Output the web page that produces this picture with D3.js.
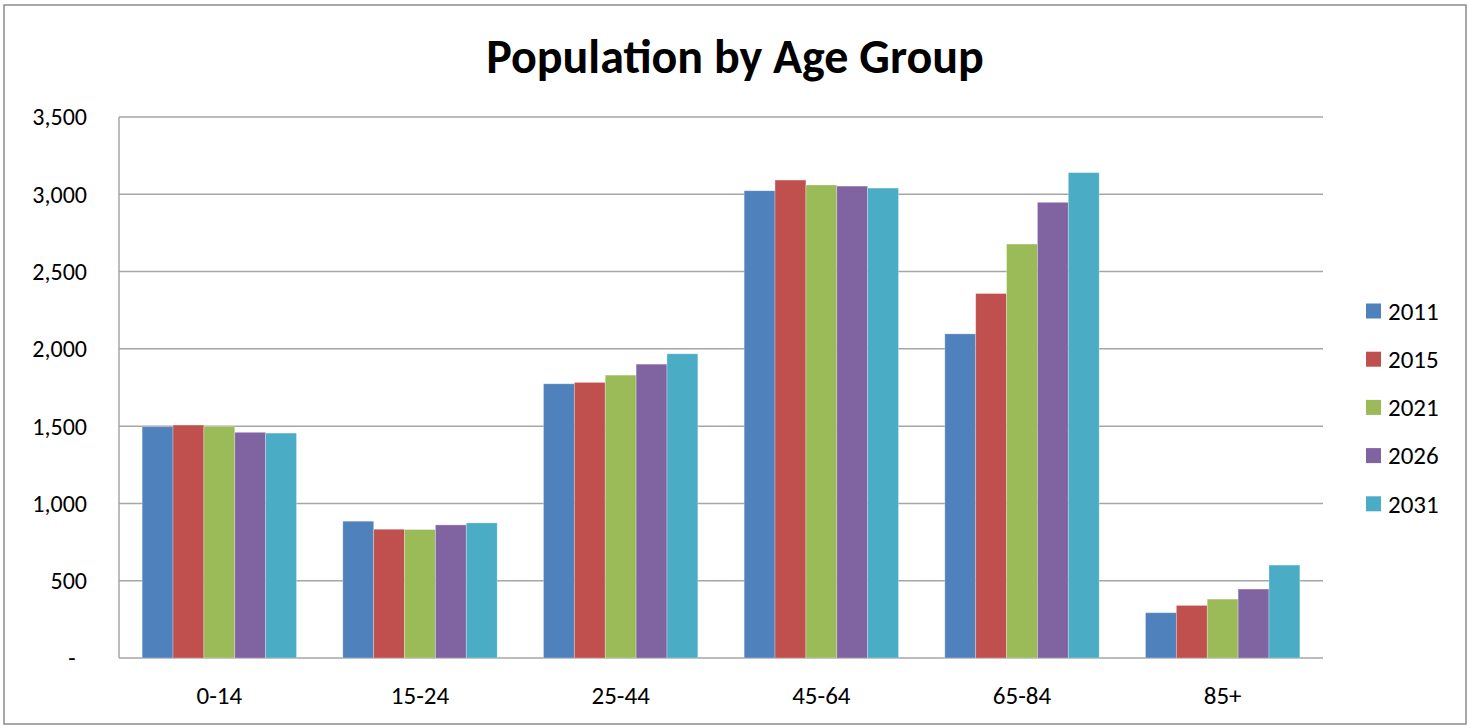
<!DOCTYPE html>
<html>
<head>
<meta charset="utf-8">
<script src="https://cdn.jsdelivr.net/npm/d3@7"></script>
<style>
  html, body { margin: 0; padding: 0; background: #fff; }
  svg { display: block; font-family: Carlito, Lato, "Open Sans", sans-serif; }
</style>
</head>
<body>
<svg id="chart" width="1471" height="728"></svg>
<script>
// ===== Population by Age Group =====

const ageGroups = ['0-14', '15-24', '25-44', '45-64', '65-84', '85+'];
const years = ['2011', '2015', '2021', '2026', '2031'];

// one array per year, values in age group order
const pop2011 = [1496, 885, 1774, 3023, 2097, 293];
const pop2015 = [1507, 833, 1783, 3092, 2358, 340];
const pop2021 = [1498, 831, 1830, 3060, 2678, 381];
const pop2026 = [1460, 861, 1901, 3053, 2948, 446];
const pop2031 = [1455, 874, 1968, 3040, 3140, 601];

const yTicks = [0, 500, 1000, 1500, 2000, 2500, 3000, 3500];
const seriesColors = ['#4F81BD', '#C0504D', '#9BBB59', '#8064A2', '#4BACC6'];

const seriesValues = [pop2011, pop2015, pop2021, pop2026, pop2031];

const svg = d3.select('#chart');
const plot = { left: 119, right: 1323, top: 117, bottom: 658 };

// outer chart frame
svg.append('rect')
    .attr('x', 4).attr('y', 5)
    .attr('width', 1462).attr('height', 719)
    .attr('fill', '#fff')
    .attr('stroke', '#8c8c8c')
    .attr('stroke-width', 1.5);

svg.append('text')
    .attr('x', 735).attr('y', 73)
    .attr('text-anchor', 'middle')
    .attr('font-size', 48)
    .attr('font-weight', 'bold')
    .attr('fill', '#000')
    .text('Population by Age Group');

// Excel-like layout: gap width 150%, half the gap on each side of a group
const groupScale = d3.scaleBand()
    .domain(ageGroups)
    .range([plot.left, plot.right]);
const band = groupScale.bandwidth();
const gap = band * 1.5 / 6.5;

const x1 = d3.scaleBand()
    .domain(years)
    .range([0, band - gap]);

const y = d3.scaleLinear()
    .domain([0, 3500])
    .range([plot.bottom, plot.top]);

// gridlines
svg.append('g')
    .selectAll('line')
    .data(yTicks)
    .join('line')
    .attr('x1', plot.left).attr('x2', plot.right)
    .attr('y1', d => y(d)).attr('y2', d => y(d))
    .attr('stroke', '#a6a6a6')
    .attr('stroke-width', 1.5);

// left axis line
svg.append('line')
    .attr('x1', plot.left).attr('x2', plot.left)
    .attr('y1', plot.top).attr('y2', plot.bottom)
    .attr('stroke', '#a6a6a6')
    .attr('stroke-width', 1.5);

// y tick labels
const fmt = d3.format(',');
svg.append('g')
    .selectAll('text')
    .data(yTicks)
    .join('text')
    .attr('x', d => d === 0 ? 72 : 87)
    .attr('y', d => y(d))
    .attr('dy', '0.35em')
    .attr('text-anchor', d => d === 0 ? 'middle' : 'end')
    .attr('font-size', 24)
    .attr('fill', '#000')
    .text(d => d === 0 ? '-' : fmt(d));

// bars
const groups = svg.append('g')
    .selectAll('g')
    .data(ageGroups)
    .join('g')
    .attr('transform', g => `translate(${groupScale(g) + gap / 2},0)`);

groups.selectAll('rect')
    .data((g, gi) => years.map((yr, si) => ({ yr, si, v: seriesValues[si][gi] })))
    .join('rect')
    .attr('x', d => x1(d.yr))
    .attr('width', x1.bandwidth())
    .attr('y', d => y(d.v))
    .attr('height', d => y(0) - y(d.v))
    .attr('fill', d => seriesColors[d.si])
    .attr('stroke', '#fff')
    .attr('stroke-opacity', 0.35)
    .attr('stroke-width', 0.8);

// x category labels
svg.append('g')
    .selectAll('text')
    .data(ageGroups)
    .join('text')
    .attr('x', g => groupScale(g) + band / 2)
    .attr('y', 695)
    .attr('dy', '0.35em')
    .attr('text-anchor', 'middle')
    .attr('font-size', 25)
    .attr('fill', '#000')
    .text(g => g);

// legend
const legend = svg.append('g')
    .selectAll('g')
    .data(years)
    .join('g')
    .attr('transform', (d, i) => `translate(1366,${311 + i * 48.2})`);

legend.append('rect')
    .attr('x', 0).attr('y', -7.5)
    .attr('width', 15).attr('height', 15)
    .attr('fill', (d, i) => seriesColors[i]);

legend.append('text')
    .attr('x', 22).attr('y', 0)
    .attr('dy', '0.35em')
    .attr('font-size', 25)
    .attr('fill', '#000')
    .text(d => d);
</script>
</body>
</html>
